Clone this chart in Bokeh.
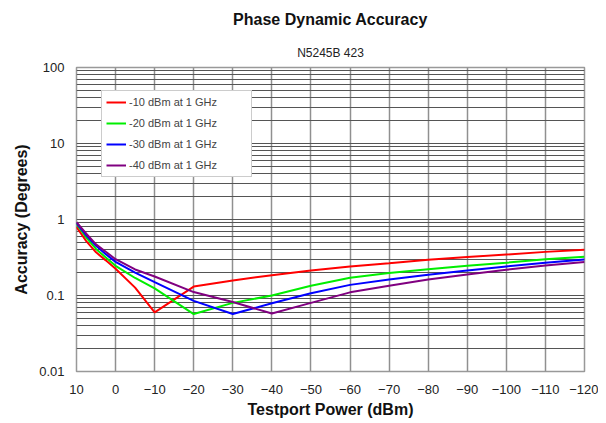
from bokeh.plotting import figure
from bokeh.models import Range1d, FixedTicker, Title, Legend, LegendItem
from bokeh.embed import file_html
from bokeh.resources import INLINE

# ---- data ----
power = [10, 7.5, 5, 2.5, 0, -5, -10, -20, -30, -40, -50, -60, -70, -80, -90, -100, -110, -120]
acc_m10 = [0.80, 0.52, 0.37, 0.29, 0.225, 0.127, 0.060, 0.131, 0.158, 0.185, 0.213, 0.241, 0.266, 0.295, 0.32, 0.346, 0.375, 0.40]
acc_m20 = [0.87, 0.58, 0.41, 0.316, 0.246, 0.17, 0.124, 0.057, 0.080, 0.100, 0.134, 0.171, 0.198, 0.222, 0.246, 0.27, 0.30, 0.323]
acc_m30 = [0.90, 0.62, 0.45, 0.35, 0.277, 0.20, 0.150, 0.085, 0.057, 0.079, 0.107, 0.138, 0.162, 0.187, 0.213, 0.241, 0.27, 0.298]
acc_m40 = [0.92, 0.65, 0.47, 0.376, 0.30, 0.22, 0.178, 0.111, 0.082, 0.058, 0.080, 0.110, 0.134, 0.162, 0.189, 0.218, 0.248, 0.275]
series_labels = ["-10 dBm at 1 GHz", "-20 dBm at 1 GHz", "-30 dBm at 1 GHz", "-40 dBm at 1 GHz"]
series_colors = ["#ff0000", "#00ee00", "#0000ff", "#800080"]

x_ticks = [10, 0, -10, -20, -30, -40, -50, -60, -70, -80, -90, -100, -110, -120]
y_ticks = [0.01, 0.1, 1, 10, 100]
y_tick_labels = ["0.01", "0.1", "1", "10", "100"]
y_minor = [m * d for d in [0.01, 0.1, 1, 10] for m in range(2, 10)]

FONT = "Liberation Sans"

p = figure(frame_width=508, frame_height=304, output_backend="svg", toolbar_location=None,
           y_axis_type="log", x_range=Range1d(10, -120), y_range=Range1d(0.01, 100),
           min_border_left=76, min_border_right=14, min_border_top=67, min_border_bottom=44)

p.title = Title(text="Phase Dynamic Accuracy", align="center", text_font=FONT,
                text_font_size="16px", text_font_style="bold", text_color="#111111",
                standoff=17)
p.add_layout(Title(text="N5245B 423", align="center", text_font=FONT,
                   text_font_size="12px", text_font_style="normal", text_color="#222222",
                   standoff=15), "above")

renderers = []
for ys, c in zip([acc_m10, acc_m20, acc_m30, acc_m40], series_colors):
    r = p.line(power, ys, line_color=c, line_width=2)
    renderers.append(r)

legend = Legend(items=[LegendItem(label=l, renderers=[r]) for l, r in zip(series_labels, renderers)],
                location=(25, 194), label_text_font=FONT, label_text_font_size="11px",
                label_height=14, glyph_height=14, glyph_width=20, spacing=7, padding=4,
                label_standoff=3, label_width=118,
                border_line_color="#999999", border_line_width=1, background_fill_alpha=1.0,
                margin=0)
p.add_layout(legend, "center")

# axes
p.xaxis.ticker = FixedTicker(ticks=x_ticks)
p.yaxis.ticker = FixedTicker(ticks=y_ticks, minor_ticks=y_minor)
p.yaxis.major_label_overrides = {t: l for t, l in zip(y_ticks, y_tick_labels)}
for ax in [p.xaxis[0], p.yaxis[0]]:
    ax.axis_line_color = None
    ax.major_tick_line_color = None
    ax.minor_tick_line_color = None
    ax.major_tick_out = 0
    ax.major_tick_in = 0
    ax.minor_tick_out = 0
    ax.minor_tick_in = 0
    ax.major_label_text_font = FONT
    ax.major_label_text_font_size = "13px"
    ax.major_label_text_color = "#222222"
    ax.axis_label_text_font = FONT
    ax.axis_label_text_font_size = "16px"
    ax.axis_label_text_font_style = "bold"
    ax.axis_label_text_color = "#111111"
p.xaxis.axis_label = "Testport Power (dBm)"
p.yaxis.axis_label = "Accuracy (Degrees)"
p.xaxis.major_label_standoff = 13
p.yaxis.major_label_standoff = 12
p.xaxis.axis_label_standoff = 4
p.yaxis.axis_label_standoff = 6

p.xgrid.grid_line_color = "#909090"
p.xgrid.grid_line_width = 1.5
p.ygrid.grid_line_color = "#555555"
p.ygrid.grid_line_width = 1
p.ygrid.minor_grid_line_color = "#555555"
p.ygrid.minor_grid_line_width = 1
p.outline_line_color = "#999999"
p.outline_line_width = 1.5
p.background_fill_color = "white"
p.border_fill_color = "white"

open("out.html", "w").write(file_html(p, INLINE))
